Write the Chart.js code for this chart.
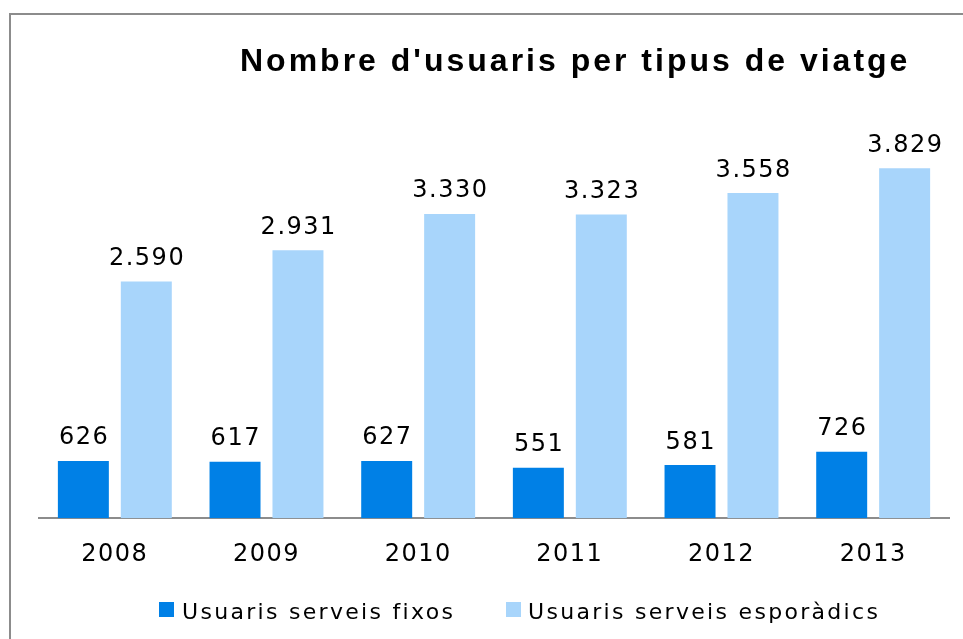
<!DOCTYPE html>
<html>
<head>
<meta charset="utf-8">
<script src="https://cdn.jsdelivr.net/npm/chart.js@4/dist/chart.umd.min.js"></script>
<style>
  html, body { margin: 0; padding: 0; background: #ffffff; }
  #wrap { width: 963px; height: 639px; position: relative; }
</style>
</head>
<body>
<div id="wrap"><canvas id="c" width="963" height="639"></canvas></div>
<script>
const chartTitle = "Nombre d'usuaris per tipus de viatge";
const years = ["2008", "2009", "2010", "2011", "2012", "2013"];
const seriesNames = ["Usuaris serveis fixos", "Usuaris serveis esporàdics"];
const fixos = [626, 617, 627, 551, 581, 726];
const esporadics = [2590, 2931, 3330, 3323, 3558, 3829];
const seriesColors = ["#0080E6", "#A8D5FB"];

function fmt(v) {
  return String(v).replace(/\B(?=(\d{3})+(?!\d))/g, ".");
}

const decorPlugin = {
  id: "decor",
  beforeDraw(chart) {
    const ctx = chart.ctx;
    ctx.letterSpacing = "1.5px";
    ctx.save();
    ctx.strokeStyle = "#8c8c8c";
    ctx.lineWidth = 2;
    ctx.beginPath();
    ctx.moveTo(10, 639);
    ctx.lineTo(10, 14);
    ctx.lineTo(963, 14);
    ctx.stroke();
    ctx.restore();
  },
  afterDraw(chart) {
    const ctx = chart.ctx;
    ctx.save();
    ctx.letterSpacing = "3px";
    ctx.font = "bold 32px 'Liberation Sans', Arial, sans-serif";
    ctx.fillStyle = "#000";
    ctx.textAlign = "left";
    ctx.textBaseline = "alphabetic";
    ctx.fillText(chartTitle, 240, 71);
    ctx.restore();

    ctx.save();
    ctx.letterSpacing = "1.5px";
    ctx.font = "24px 'DejaVu Sans', sans-serif";
    ctx.fillStyle = "#000";
    ctx.textAlign = "center";
    ctx.textBaseline = "alphabetic";
    chart.data.datasets.forEach((ds, di) => {
      const meta = chart.getDatasetMeta(di);
      meta.data.forEach((bar, i) => {
        ctx.fillText(fmt(ds.data[i]), bar.x + 0.75, bar.y - 16.5);
      });
    });
    ctx.restore();

    ctx.save();
    ctx.letterSpacing = "2.3px";
    ctx.font = "22px 'DejaVu Sans', sans-serif";
    ctx.textAlign = "left";
    ctx.textBaseline = "alphabetic";
    const items = [{ sx: 159, tx: 182 }, { sx: 506, tx: 528 }];
    chart.data.datasets.forEach((ds, di) => {
      const it = items[di];
      ctx.fillStyle = ds.backgroundColor;
      ctx.fillRect(it.sx, 602, 15, 15);
      ctx.fillStyle = "#000";
      ctx.fillText(ds.label, it.tx, 619);
    });
    ctx.restore();
  }
};

new Chart(document.getElementById("c"), {
  type: "bar",
  data: {
    labels: years,
    datasets: [
      { label: seriesNames[0], data: fixos, backgroundColor: seriesColors[0] },
      { label: seriesNames[1], data: esporadics, backgroundColor: seriesColors[1] }
    ]
  },
  options: {
    responsive: false,
    animation: false,
    devicePixelRatio: 1,
    categoryPercentage: 0.83,
    barPercentage: 0.81,
    layout: { padding: { left: 39, right: 14, top: 107, bottom: 48 } },
    plugins: {
      legend: { display: false },
      title: { display: false },
      tooltip: { enabled: false }
    },
    scales: {
      x: {
        grid: { display: false, drawTicks: false },
        border: { display: true, color: "#8c8c8c", width: 2 },
        ticks: {
          padding: 22,
          color: "#000",
          font: { family: "'DejaVu Sans', sans-serif", size: 24 }
        }
      },
      y: {
        display: false,
        min: 0,
        max: 4500
      }
    }
  },
  plugins: [decorPlugin]
});
</script>
</body>
</html>
